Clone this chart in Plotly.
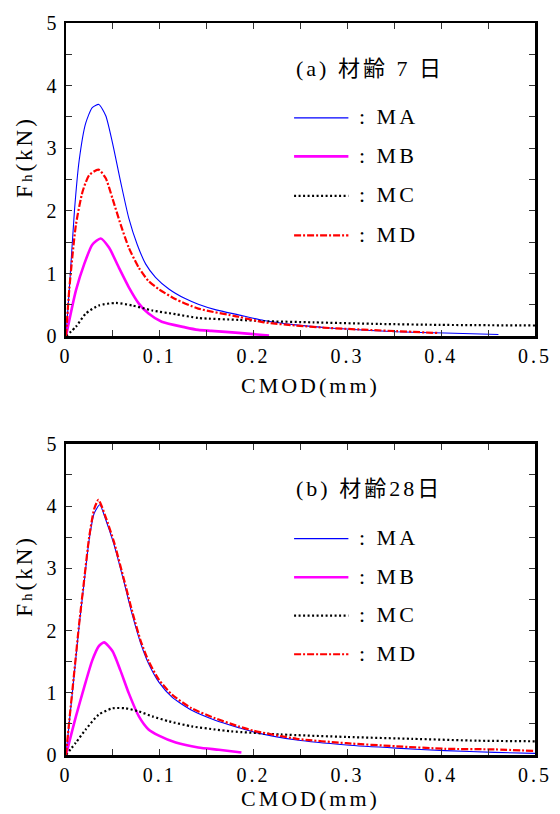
import plotly.graph_objects as go

# ---------------- data ----------------
# (a) age 7 days
a_MA_x = [0, 0.004, 0.009, 0.014, 0.021, 0.028, 0.035, 0.0424, 0.0495, 0.0583, 0.067, 0.076, 0.085,
          0.0954, 0.11, 0.127, 0.141, 0.16, 0.184, 0.211, 0.245, 0.281, 0.32, 0.352, 0.404, 0.461]
a_MA_y = [0, 0.85, 2.0, 2.8, 3.4, 3.65, 3.70, 3.52, 3.09, 2.46, 1.88, 1.46, 1.15,
          0.94, 0.75, 0.6, 0.51, 0.42, 0.34, 0.25, 0.18, 0.13, 0.095, 0.07, 0.05, 0.026]

a_MB_x = [0, 0.0106, 0.0194, 0.028, 0.037, 0.046, 0.0565, 0.067, 0.0777, 0.088, 0.102, 0.127,
          0.141, 0.155, 0.184, 0.2165]
a_MB_y = [0, 0.73, 1.15, 1.46, 1.56, 1.41, 1.09, 0.78, 0.52, 0.36, 0.23, 0.14,
          0.10, 0.084, 0.053, 0.01]

a_MC_x = [0, 0.0106, 0.021, 0.035, 0.053, 0.0707, 0.092, 0.117, 0.141, 0.184, 0.211, 0.264,
          0.334, 0.399, 0.5]
a_MC_y = [0, 0.15, 0.36, 0.49, 0.53, 0.49, 0.41, 0.35, 0.29, 0.26, 0.24, 0.22,
          0.195, 0.18, 0.17]

a_MD_x = [0, 0.0035, 0.0106, 0.0177, 0.0247, 0.0346, 0.0424, 0.0495, 0.0583, 0.067, 0.0777, 0.088,
          0.099, 0.117, 0.141, 0.184, 0.211, 0.245, 0.281, 0.352, 0.397]
a_MD_y = [0, 0.75, 1.78, 2.31, 2.57, 2.66, 2.52, 2.2, 1.78, 1.41, 1.09, 0.88,
          0.75, 0.59, 0.44, 0.31, 0.22, 0.17, 0.13, 0.08, 0.05]

# (b) age 28 days
b_MA_x = [0, 0.0035, 0.0088, 0.0141, 0.0194, 0.0247, 0.030, 0.036, 0.0424, 0.0512, 0.0618, 0.0707,
          0.0795, 0.088, 0.099, 0.113, 0.134, 0.159, 0.184, 0.2, 0.246, 0.299, 0.352, 0.404,
          0.457, 0.5]
b_MA_y = [0, 0.52, 1.3, 2.09, 2.78, 3.46, 3.88, 4.02, 3.78, 3.38, 2.78, 2.25,
          1.80, 1.47, 1.17, 0.93, 0.72, 0.56, 0.44, 0.37, 0.24, 0.16, 0.11, 0.07,
          0.043, 0.026]

b_MB_x = [0, 0.0106, 0.0194, 0.028, 0.035, 0.0406, 0.0495, 0.058, 0.067, 0.0777, 0.088, 0.099,
          0.117, 0.141, 0.163, 0.187]
b_MB_y = [0, 0.62, 1.09, 1.52, 1.75, 1.81, 1.67, 1.36, 0.99, 0.62, 0.41, 0.31,
          0.2, 0.12, 0.084, 0.04]

b_MC_x = [0, 0.0106, 0.021, 0.035, 0.0495, 0.0636, 0.0777, 0.092, 0.11, 0.134, 0.159, 0.176,
          0.229, 0.299, 0.369, 0.439, 0.5]
b_MC_y = [0, 0.2, 0.41, 0.65, 0.75, 0.75, 0.7, 0.62, 0.54, 0.46, 0.41, 0.38,
          0.33, 0.29, 0.26, 0.23, 0.22]

b_MD_x = [0, 0.0035, 0.0088, 0.0141, 0.0194, 0.0247, 0.030, 0.0346, 0.0424, 0.0512, 0.0618, 0.0707,
          0.0795, 0.088, 0.099, 0.113, 0.134, 0.159, 0.184, 0.2, 0.246, 0.299, 0.352, 0.404,
          0.457, 0.5]
b_MD_y = [0, 0.55, 1.33, 2.12, 2.82, 3.5, 3.95, 4.10, 3.82, 3.42, 2.82, 2.3,
          1.84, 1.51, 1.21, 0.97, 0.75, 0.59, 0.46, 0.39, 0.26, 0.19, 0.14, 0.10,
          0.09, 0.065]

series_names = ["MA", "MB", "MC", "MD"]
panel_titles = ["(a) 材齢 7 日", "(b) 材齢28日"]
x_ticks = [0, 0.05, 0.1, 0.15, 0.2, 0.25, 0.3, 0.35, 0.4, 0.45, 0.5]
x_ticktext = ["0", "", "0.1", "", "0.2", "", "0.3", "", "0.4", "", "0.5"]
y_ticks = [0, 0.5, 1, 1.5, 2, 2.5, 3, 3.5, 4, 4.5, 5]
y_ticktext = ["0", "", "1", "", "2", "", "3", "", "4", "", "5"]
x_title = "CMOD(mm)"
y_title = "F<span style='font-size:15px'>h</span>(kN)"

# ---------------- styles ----------------
styles = {
    "MA": dict(color="#0000ff", width=1.1, dash="solid"),
    "MB": dict(color="#ff00ff", width=2.6, dash="solid"),
    "MC": dict(color="#000000", width=2.2, dash="2px,2.5px"),
    "MD": dict(color="#ff0000", width=2.2, dash="7px,2px,2px,2px"),
}
SERIF = "Liberation Serif, Times New Roman, Noto Sans CJK JP, serif"

W, H = 560, 814
L, R, T, B = 66, 19, 14, 59


def px2x(px):
    return (px - L) / (W - L - R)


def py2y(py):
    return (H - B - py) / (H - T - B)


fig = go.Figure()

panels = [
    ("x", "y", {"MA": (a_MA_x, a_MA_y), "MB": (a_MB_x, a_MB_y), "MC": (a_MC_x, a_MC_y), "MD": (a_MD_x, a_MD_y)}),
    ("x2", "y2", {"MA": (b_MA_x, b_MA_y), "MB": (b_MB_x, b_MB_y), "MC": (b_MC_x, b_MC_y), "MD": (b_MD_x, b_MD_y)}),
]
for xa, ya, data in panels:
    for name in ["MA", "MB", "MC", "MD"]:
        xs, ys = data[name]
        st = styles[name]
        fig.add_trace(go.Scatter(
            x=xs, y=ys, mode="lines", name=name, showlegend=False,
            xaxis=xa, yaxis=ya,
            line=dict(color=st["color"], width=st["width"], dash=st["dash"],
                      shape="spline", smoothing=0.6),
            hoverinfo="skip",
        ))

axis_common = dict(
    ticks="inside", ticklen=6, tickwidth=1, tickcolor="#333333",
    showline=True, linewidth=2.5, linecolor="black", mirror="ticks",
    showgrid=False, zeroline=False,
    tickfont=dict(family=SERIF, size=20, color="black"),
)

top_dom = [py2y(331), 1.0]
bot_dom = [0.0, py2y(440)]

fig.update_layout(
    width=W, height=H,
    margin=dict(l=L, r=R, t=T, b=B),
    paper_bgcolor="white", plot_bgcolor="white",
    showlegend=False,
    xaxis=dict(domain=[0, 1], anchor="y", range=[0, 0.5], tickvals=x_ticks, ticktext=x_ticktext, **axis_common),
    yaxis=dict(domain=top_dom, anchor="x", range=[0, 5], tickvals=y_ticks, ticktext=y_ticktext, **axis_common),
    xaxis2=dict(domain=[0, 1], anchor="y2", range=[0, 0.5], tickvals=x_ticks, ticktext=x_ticktext, **axis_common),
    yaxis2=dict(domain=bot_dom, anchor="x2", range=[0, 5], tickvals=y_ticks, ticktext=y_ticktext, **axis_common),
)

annotations = []
shapes = []
# panel-specific layout positions (pixels)
panel_pos = [
    dict(title_y=60, leg_y=[110, 149, 189, 229], xt_y=381, yt_y=150),
    dict(title_y=485, leg_y=[536, 575, 614, 653], xt_y=799, yt_y=574),
]
for k, pos in enumerate(panel_pos):
    annotations.append(dict(
        text=panel_titles[k], xref="paper", yref="paper",
        x=px2x(297), y=py2y(pos["title_y"]), xanchor="left", yanchor="middle", align="left",
        showarrow=False, font=dict(family=SERIF, size=22, color="black"),
    ))
    for name, ly in zip(series_names, pos["leg_y"]):
        st = styles[name]
        shapes.append(dict(
            type="line", xref="paper", yref="paper",
            x0=px2x(297), x1=px2x(352), y0=py2y(ly), y1=py2y(ly),
            line=dict(color=st["color"], width=st["width"], dash=st["dash"]),
        ))
        annotations.append(dict(
            text=": " + name, xref="paper", yref="paper",
            x=px2x(361), y=py2y(ly - 1), xanchor="left", yanchor="middle", align="left",
            showarrow=False, font=dict(family=SERIF, size=22, color="black"),
        ))
    annotations.append(dict(
        text=x_title, xref="paper", yref="paper",
        x=px2x(314), y=py2y(pos["xt_y"]), xanchor="center", yanchor="middle",
        showarrow=False, font=dict(family=SERIF, size=22, color="black"),
    ))
    annotations.append(dict(
        text=y_title, xref="paper", yref="paper",
        x=px2x(24), y=py2y(pos["yt_y"]), xanchor="center", yanchor="middle",
        textangle=-90, showarrow=False, font=dict(family=SERIF, size=23, color="black"),
    ))

fig.update_layout(annotations=annotations, shapes=shapes)

page_css = ("var s=document.createElement('style');"
            "s.innerHTML='body{margin:0;padding:0;overflow:hidden}"
            " .main-svg text{letter-spacing:3px}';"
            "document.head.appendChild(s);")
fig.write_html("out.html", post_script=page_css, config={"displayModeBar": False, "staticPlot": True})
